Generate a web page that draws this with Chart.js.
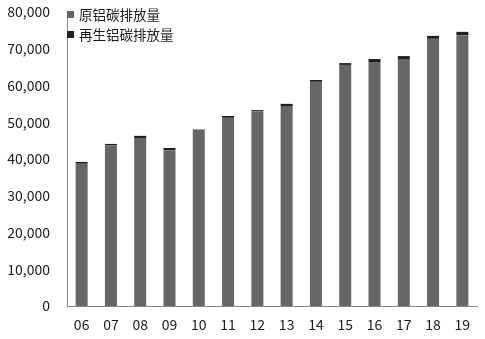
<!DOCTYPE html>
<html>
<head>
<meta charset="utf-8">
<script src="https://cdn.jsdelivr.net/npm/chart.js@4/dist/chart.umd.min.js"></script>
<style>
  html, body { margin: 0; padding: 0; background: #ffffff; }
  #wrap { position: relative; width: 485px; height: 339px; }
  #legend { position: absolute; left: 67px; top: 4px; font-family: "Noto Sans CJK SC", sans-serif; font-size: 13.5px; color: #1a1a1a; }
  #legend .item { display: flex; align-items: center; height: 20px; line-height: 20px; }
  #legend .box { width: 7px; height: 7px; margin-right: 5px; }
</style>
</head>
<body>
<div id="wrap">
  <canvas id="c" width="485" height="339"></canvas>
  <div id="legend"></div>
</div>
<script>
const categories = ["06", "07", "08", "09", "10", "11", "12", "13", "14", "15", "16", "17", "18", "19"];
const primaryLabel = "原铝碳排放量";
const recycledLabel = "再生铝碳排放量";
const primaryValues = [38700, 43700, 45700, 42400, 47700, 51200, 53000, 54400, 61000, 65600, 66400, 67200, 72700, 73700];
const recycledValues = [500, 400, 600, 600, 300, 500, 300, 600, 500, 500, 800, 800, 800, 900];
const yTicks = [0, 10000, 20000, 30000, 40000, 50000, 60000, 70000, 80000];

const primaryColor = "#666666";
const recycledColor = "#1f1f1f";
const axisColor = "#8a8a8a";
const textColor = "#1a1a1a";
const fontFamily = '"Noto Sans CJK SC", sans-serif';

const chart = new Chart(document.getElementById("c"), {
  type: "bar",
  data: {
    labels: categories,
    datasets: [
      { label: primaryLabel, data: primaryValues, backgroundColor: primaryColor, borderWidth: 0 },
      { label: recycledLabel, data: recycledValues, backgroundColor: recycledColor, borderWidth: 0 }
    ]
  },
  options: {
    responsive: false,
    animation: false,
    layout: { padding: { top: 12, right: 8, left: 0, bottom: 0 } },
    plugins: { legend: { display: false }, tooltip: { enabled: false } },
    datasets: { bar: { categoryPercentage: 1, barPercentage: 0.41 } },
    scales: {
      x: {
        stacked: true,
        grid: { display: false, drawTicks: false },
        border: { display: true, color: axisColor, width: 1 },
        ticks: { color: textColor, font: { family: fontFamily, size: 14 }, padding: 10, maxRotation: 0 },
        afterFit: s => { s.height = 33; }
      },
      y: {
        stacked: true,
        min: 0,
        max: 80000,
        grid: { display: false, drawTicks: false },
        border: { display: true, color: axisColor, width: 1 },
        afterBuildTicks: s => { s.ticks = yTicks.map(v => ({ value: v })); },
        ticks: {
          color: textColor,
          font: { family: fontFamily, size: 14 },
          padding: 17,
          callback: v => v.toLocaleString("en-US")
        },
        afterFit: s => { s.width = 67; s.paddingTop = 0; s.paddingBottom = 0; }
      }
    }
  }
});

const legend = document.getElementById("legend");
chart.data.datasets.forEach(ds => {
  const item = document.createElement("div");
  item.className = "item";
  const box = document.createElement("span");
  box.className = "box";
  box.style.background = ds.backgroundColor;
  const txt = document.createElement("span");
  txt.textContent = ds.label;
  item.appendChild(box);
  item.appendChild(txt);
  legend.appendChild(item);
});
</script>
</body>
</html>
